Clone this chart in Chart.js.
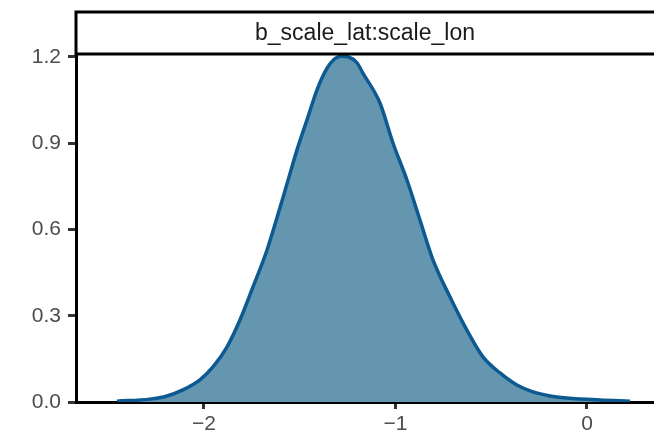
<!DOCTYPE html>
<html>
<head>
<meta charset="utf-8">
<script src="https://cdn.jsdelivr.net/npm/chart.js@4/dist/chart.umd.min.js"></script>
<style>
    html, body { margin: 0; padding: 0; background: #fff; }
    #wrap { width: 654px; height: 440px; }
</style>
</head>
<body>
<div id="wrap"><canvas id="densityChart" width="654" height="440"></canvas></div>
<script>
const stripLabel = 'b_scale_lat:scale_lon';

// density curve
const xValues = [-2.454, -2.282, -2.193, -2.110, -2.021, -1.953, -1.880, -1.812, -1.744, -1.671,
    -1.619, -1.567, -1.514, -1.457, -1.410, -1.358, -1.320, -1.285, -1.245, -1.201,
    -1.170, -1.081, -1.013, -0.940, -0.872, -0.804, -0.715, -0.627, -0.543, -0.454,
    -0.366, -0.282, -0.193, -0.104, 0.068, 0.225];
const densityValues = [0.003, 0.010, 0.021, 0.042, 0.077, 0.122, 0.191, 0.285, 0.400, 0.528,
    0.640, 0.757, 0.877, 0.991, 1.085, 1.160, 1.192, 1.203, 1.200, 1.180,
    1.144, 1.040, 0.901, 0.772, 0.633, 0.494, 0.365, 0.250, 0.157, 0.101,
    0.059, 0.035, 0.021, 0.014, 0.007, 0.003];

const xTicks = [-2, -1, 0];
const yTicks = [0, 0.3, 0.6, 0.9, 1.2];

const tickFont = { family: "'Liberation Sans', Arial, sans-serif", size: 21 };

// facet strip drawn above the panel
const stripPlugin = {
    id: 'strip',
    afterDraw(chart) {
        const { ctx, chartArea } = chart;
        const top = 12;
        ctx.save();
        ctx.fillStyle = '#fff';
        ctx.fillRect(chartArea.left, top, chartArea.right - chartArea.left + 4, chartArea.top - top);
        ctx.strokeStyle = '#000';
        ctx.lineWidth = 3;
        ctx.strokeRect(chartArea.left, top, chartArea.right - chartArea.left + 4, chartArea.top - top);
        ctx.fillStyle = '#1a1a1a';
        ctx.font = "23px 'Liberation Sans', Arial, sans-serif";
        ctx.textAlign = 'center';
        ctx.textBaseline = 'middle';
        ctx.fillText(stripLabel, (chartArea.left + chartArea.right) / 2, (top + chartArea.top) / 2 + 1);
        ctx.restore();
    }
};

const ctx = document.getElementById('densityChart').getContext('2d');
new Chart(ctx, {
    type: 'line',
    data: {
        datasets: [{
            data: xValues.map((x, i) => ({ x: x, y: densityValues[i] })),
            borderColor: '#0d5a92',
            backgroundColor: '#6496b0',
            borderWidth: 3.5,
            fill: 'origin',
            pointRadius: 0,
            cubicInterpolationMode: 'monotone'
        }]
    },
    options: {
        responsive: false,
        animation: false,
        layout: { padding: { top: 54, right: 0, left: 0, bottom: 0 } },
        plugins: { legend: { display: false }, tooltip: { enabled: false } },
        scales: {
            x: {
                type: 'linear',
                min: -2.668,
                max: 0.35,
                afterBuildTicks: s => { s.ticks = xTicks.map(v => ({ value: v })); },
                afterFit: s => { s.height = 38; },
                ticks: {
                    font: tickFont,
                    color: '#4d4d4d',
                    padding: 3,
                    maxRotation: 0,
                    callback: v => v < 0 ? '\u2212' + Math.abs(v) : String(v)
                },
                grid: { display: true, drawOnChartArea: false, tickLength: 7, tickWidth: 3, tickColor: '#333' },
                border: { display: true, color: '#000', width: 3 }
            },
            y: {
                min: 0,
                max: 1.2104,
                afterBuildTicks: s => { s.ticks = yTicks.map(v => ({ value: v })); },
                afterFit: s => { s.width = 76; },
                ticks: {
                    font: tickFont,
                    color: '#4d4d4d',
                    padding: 7,
                    callback: v => Number(v).toFixed(1)
                },
                grid: { display: true, drawOnChartArea: false, tickLength: 8, tickWidth: 3, tickColor: '#333' },
                border: { display: true, color: '#000', width: 3 }
            }
        }
    },
    plugins: [stripPlugin]
});
</script>
</body>
</html>
